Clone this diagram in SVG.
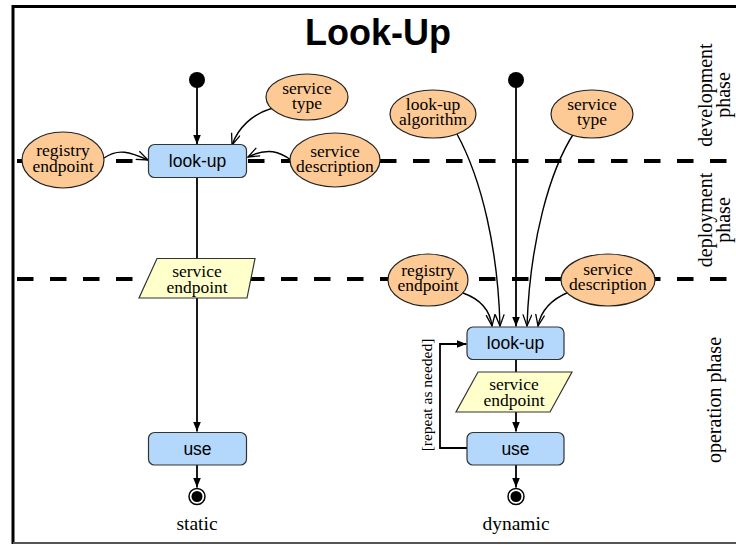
<svg xmlns="http://www.w3.org/2000/svg" width="736" height="545" viewBox="0 0 736 545">
<defs>
<style>
.serif{font-family:"Liberation Serif","Times New Roman",serif;fill:#000}
.sans{font-family:"Liberation Sans",Arial,sans-serif;fill:#000}
.nt{font-size:17.5px;text-anchor:middle}
.bt{font-size:17.5px;text-anchor:middle}
.ell{fill:#fdca96;stroke:#222;stroke-width:1.2}
.box{fill:#b3d8fc;stroke:#333;stroke-width:1.2}
.par{fill:#ffffcc;stroke:#333;stroke-width:1.2}
.flow{fill:none;stroke:#000;stroke-width:1.8}
.dep{fill:none;stroke:#000;stroke-width:1.4}
.dash{stroke:#000;stroke-width:4;stroke-dasharray:16.5 16.5}
.phase{font-size:20px;text-anchor:middle}
</style>
<marker id="fa" markerUnits="userSpaceOnUse" markerWidth="12" markerHeight="10" refX="10" refY="4" orient="auto">
<path d="M0,0 L10,4 L0,8 z" fill="#000"/>
</marker>
<marker id="oa" markerUnits="userSpaceOnUse" markerWidth="14" markerHeight="12" refX="12" refY="5" orient="auto">
<path d="M0.5,0.5 L12,5 L0.5,9.5" fill="none" stroke="#000" stroke-width="1.3"/>
</marker>
</defs>
<rect width="736" height="545" fill="#fff"/>
<g id="frame">
<line x1="13" y1="5" x2="13" y2="544" stroke="#000" stroke-width="3"/>
<line x1="12" y1="6.5" x2="736" y2="6.5" stroke="#000" stroke-width="3"/>
<line x1="13" y1="543" x2="736" y2="543" stroke="#555" stroke-width="2"/>
</g>
<text id="title" class="sans" x="378" y="45" font-size="36" font-weight="bold" text-anchor="middle">Look-Up</text>
<g id="phase-lines">
<line class="dash" x1="17" y1="161" x2="736" y2="161"/>
<line class="dash" x1="17" y1="279" x2="736" y2="279"/>
</g>
<g id="phase-labels" class="serif phase">
<text transform="translate(712,95) rotate(-90)">development</text>
<text transform="translate(730,95) rotate(-90)">phase</text>
<text transform="translate(712,220) rotate(-90)">deployment</text>
<text transform="translate(730,220) rotate(-90)">phase</text>
<text transform="translate(721,400) rotate(-90)">operation phase</text>
</g>
<g id="connectors">
<line class="flow" x1="197" y1="86" x2="197" y2="144.5" marker-end="url(#fa)"/>
<line class="flow" x1="197" y1="177" x2="197" y2="431.5" marker-end="url(#fa)"/>
<line class="flow" x1="197" y1="465" x2="197" y2="487.5" marker-end="url(#fa)"/>
<path class="dep" d="M104,158 C118,148 130,152 148,160" marker-end="url(#oa)"/>
<path class="dep" d="M273,108 C252,114 238,128 232,145" marker-end="url(#oa)"/>
<path class="dep" d="M291,160 C280,152 268,147 248,157" marker-end="url(#oa)"/>
<line class="flow" x1="516" y1="86" x2="516" y2="326.5" marker-end="url(#fa)"/>
<path class="dep" d="M457,134 C482,180 498,250 500,326" marker-end="url(#oa)"/>
<path class="dep" d="M574,133 C550,170 530,240 527,326" marker-end="url(#oa)"/>
<path class="dep" d="M463,293 C480,299 490,310 492,326" marker-end="url(#oa)"/>
<path class="dep" d="M569,292 C552,299 541,310 538,326" marker-end="url(#oa)"/>
<line class="flow" x1="516" y1="359" x2="516" y2="372"/>
<line class="flow" x1="516" y1="412" x2="516" y2="431.5" marker-end="url(#fa)"/>
<line class="flow" x1="516" y1="465" x2="516" y2="487.5" marker-end="url(#fa)"/>
<path class="flow" d="M467,448 H440 V344 H466.5" marker-end="url(#fa)"/>
<text class="serif" transform="translate(432,395) rotate(-90)" font-size="15.5" text-anchor="middle">[repeat as needed]</text>
</g>
<g id="start-static"><circle cx="197" cy="80" r="8" fill="#000"/></g>
<g id="lookup-static">
<rect class="box" x="148.5" y="144.5" width="98" height="33" rx="6"/>
<text class="sans bt" x="197.5" y="166.5">look-up</text>
</g>
<g id="registry-static">
<ellipse class="ell" cx="63" cy="160" rx="41" ry="28"/>
<text class="serif nt" x="63" y="156">registry</text>
<text class="serif nt" x="63" y="172">endpoint</text>
</g>
<g id="type-static">
<ellipse class="ell" cx="307" cy="97" rx="41" ry="23"/>
<text class="serif nt" x="307" y="94">service</text>
<text class="serif nt" x="307" y="109">type</text>
</g>
<g id="desc-static">
<ellipse class="ell" cx="335" cy="160" rx="45" ry="27"/>
<text class="serif nt" x="335" y="157">service</text>
<text class="serif nt" x="335" y="172">description</text>
</g>
<g id="endpoint-static">
<polygon class="par" points="157,258.5 255,258.5 247,298 139,298"/>
<text class="serif nt" x="197" y="277">service</text>
<text class="serif nt" x="197" y="292.5">endpoint</text>
</g>
<g id="use-static">
<rect class="box" x="148.5" y="432.5" width="98" height="32.5" rx="6"/>
<text class="sans bt" x="197.5" y="455">use</text>
</g>
<g id="end-static">
<circle cx="197" cy="496.5" r="8" fill="#fff" stroke="#000" stroke-width="1.5"/>
<circle cx="197" cy="496.5" r="5.5" fill="#000"/>
<text class="serif" x="197" y="530" font-size="19.5" text-anchor="middle">static</text>
</g>
<g id="start-dynamic"><circle cx="516" cy="80" r="8" fill="#000"/></g>
<g id="algorithm-dynamic">
<ellipse class="ell" cx="433" cy="114" rx="43" ry="24"/>
<text class="serif nt" x="433" y="110">look-up</text>
<text class="serif nt" x="433" y="125">algorithm</text>
</g>
<g id="type-dynamic">
<ellipse class="ell" cx="592" cy="114" rx="41" ry="24"/>
<text class="serif nt" x="592" y="110">service</text>
<text class="serif nt" x="592" y="125">type</text>
</g>
<g id="registry-dynamic">
<ellipse class="ell" cx="428" cy="280" rx="40" ry="26"/>
<text class="serif nt" x="428" y="276">registry</text>
<text class="serif nt" x="428" y="291">endpoint</text>
</g>
<g id="desc-dynamic">
<ellipse class="ell" cx="608" cy="280" rx="47" ry="26"/>
<text class="serif nt" x="608" y="275">service</text>
<text class="serif nt" x="608" y="290">description</text>
</g>
<g id="lookup-dynamic">
<rect class="box" x="467" y="327" width="97" height="32.5" rx="6"/>
<text class="sans bt" x="515.5" y="349">look-up</text>
</g>
<g id="endpoint-dynamic">
<polygon class="par" points="478,372 572,372 550,412 456,412"/>
<text class="serif nt" x="514" y="390">service</text>
<text class="serif nt" x="514" y="405.5">endpoint</text>
</g>
<g id="use-dynamic">
<rect class="box" x="467" y="432.5" width="97" height="32.5" rx="6"/>
<text class="sans bt" x="515.5" y="455">use</text>
</g>
<g id="end-dynamic">
<circle cx="516" cy="496.5" r="8" fill="#fff" stroke="#000" stroke-width="1.5"/>
<circle cx="516" cy="496.5" r="5.5" fill="#000"/>
<text class="serif" x="516" y="530" font-size="19.5" text-anchor="middle">dynamic</text>
</g>
</svg>
